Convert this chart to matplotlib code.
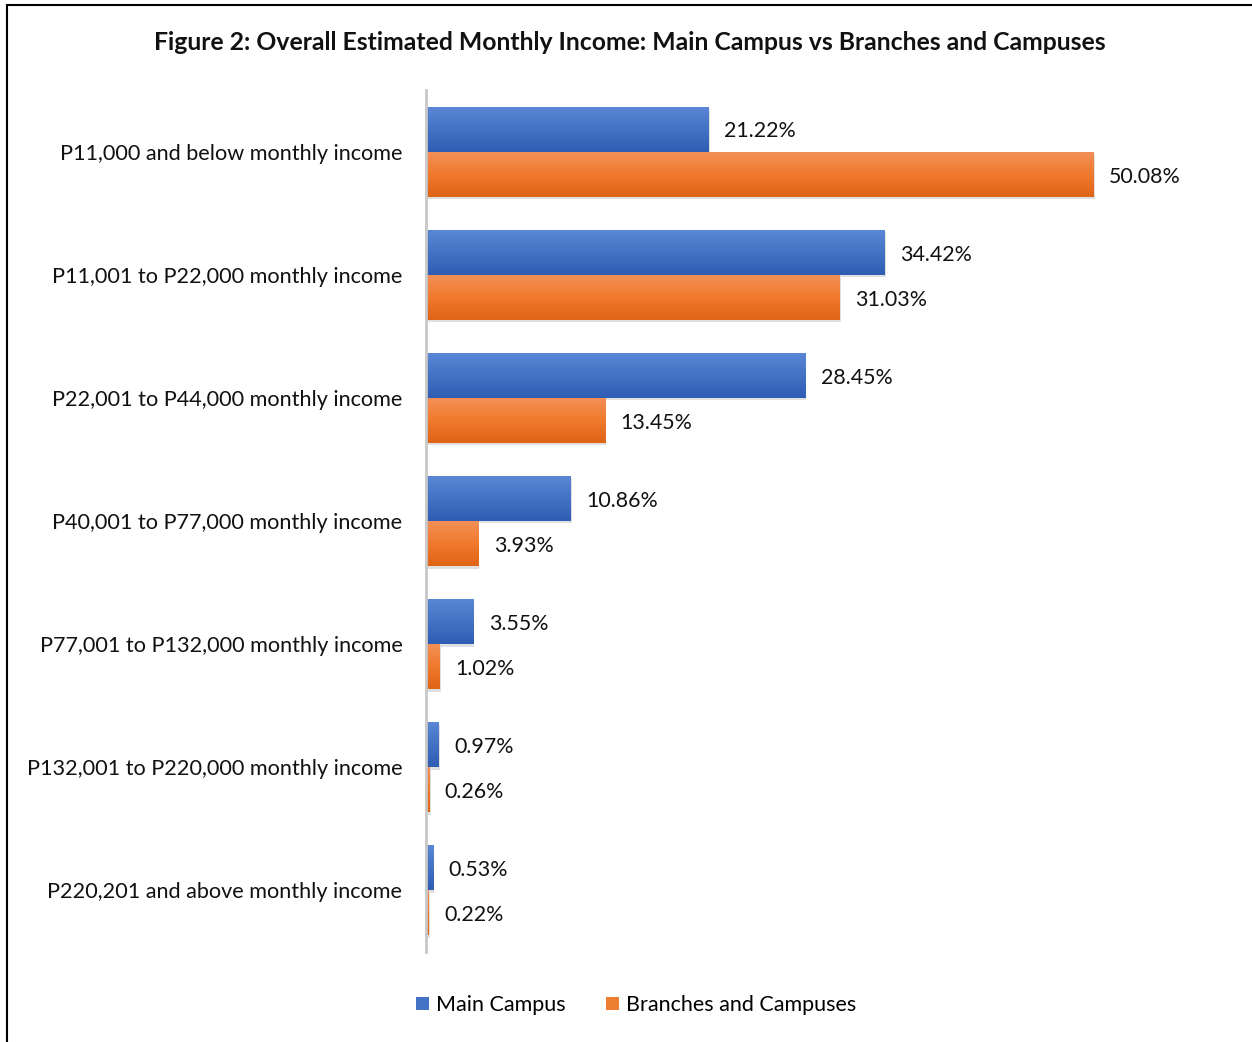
import numpy as np
import matplotlib.pyplot as plt
from matplotlib.patches import Rectangle
from matplotlib.colors import LinearSegmentedColormap

plt.rcParams['font.family'] = ['Lato', 'DejaVu Sans']

# data
categories = ['P11,000 and below monthly income',
              'P11,001 to P22,000 monthly income',
              'P22,001 to P44,000 monthly income',
              'P40,001 to P77,000 monthly income',
              'P77,001 to P132,000 monthly income',
              'P132,001 to P220,000 monthly income',
              'P220,201 and above monthly income']
main_campus = [21.22, 34.42, 28.45, 10.86, 3.55, 0.97, 0.53]
branches = [50.08, 31.03, 13.45, 3.93, 1.02, 0.26, 0.22]
series_names = ['Main Campus', 'Branches and Campuses']

W, H = 1252, 1042
fig = plt.figure(figsize=(W/100, H/100), dpi=100)

# outer border (left and top visible)
fig.add_artist(Rectangle((7/W, -0.1), 1.2, 1 - 5/H + 0.1, transform=fig.transFigure,
                         fill=False, edgecolor='black', linewidth=1.5))

ax = fig.add_axes([426/W, 1 - 952/H, 800/W, 862/H])
ax.set_xlim(0, 60)
ax.set_ylim(6.5, -0.5)

h = 0.366
blue_cmap = LinearSegmentedColormap.from_list('b', ['#5B87D6', '#4472C4', '#2F5DB4'])
orange_cmap = LinearSegmentedColormap.from_list('o', ['#F39058', '#F07A2E', '#E06416'])
grad = np.linspace(0, 1, 64).reshape(-1, 1)

y = np.arange(len(categories))
for i in range(len(categories)):
    for val, y0, cmap in [(main_campus[i], y[i] - h, blue_cmap),
                          (branches[i], y[i], orange_cmap)]:
        # soft shadow
        ax.add_patch(Rectangle((0.08, y0 + 0.02), val, h, facecolor='#000000',
                               alpha=0.12, edgecolor='none', zorder=1))
        im = ax.imshow(grad, cmap=cmap, aspect='auto',
                       extent=[0, val, y0 + h, y0], zorder=2)
        r = Rectangle((0, y0), val, h, facecolor='none', edgecolor='none')
        ax.add_patch(r)
        im.set_clip_path(r)
        ax.text(val + 1.15, y0 + h / 2 + 0.02, f'{val:.2f}%', va='center', ha='left',
                fontsize=15.4, color='#111111', zorder=3)

ax.set_yticks(y)
ax.set_yticklabels(categories, fontsize=15.6, color='#111111')
ax.tick_params(axis='y', length=0, pad=17)
ax.set_xticks([])
for s in ['top', 'right', 'bottom']:
    ax.spines[s].set_visible(False)
ax.spines['left'].set_color('#C8C8C8')
ax.spines['left'].set_linewidth(2)

fig.text(630/W, 1 - 43/H,
         'Figure 2: Overall Estimated Monthly Income: Main Campus vs Branches and Campuses',
         ha='center', va='center', fontsize=17.8, fontweight='bold', color='#111111')

# legend
handles = [Rectangle((0, 0), 1, 1, facecolor='#4472C4'),
           Rectangle((0, 0), 1, 1, facecolor='#ED7D31')]
fig.legend(handles, series_names, loc='center', bbox_to_anchor=(636/W, 1 - 1005/H),
           ncol=2, frameon=False, fontsize=15.5, handlelength=0.6, handleheight=0.6,
           handletextpad=0.3, columnspacing=1.9)

fig.savefig('out.png', dpi=100)
